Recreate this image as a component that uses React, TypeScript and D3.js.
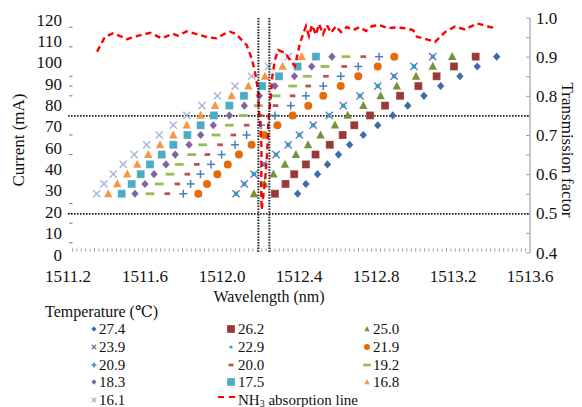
import React from "react";
import * as d3 from "d3";

// ---------- data ----------
const currents = [30, 35, 40, 45, 50, 55, 60, 65, 70, 75, 80, 85, 90, 95, 100];

const wl274 = [1512.393, 1512.436, 1512.496, 1512.548, 1512.605, 1512.663, 1512.734, 1512.809, 1512.887, 1512.965, 1513.049, 1513.136, 1513.236, 1513.326, 1513.427];
const wl262 = [1512.275, 1512.330, 1512.375, 1512.436, 1512.486, 1512.560, 1512.627, 1512.687, 1512.769, 1512.847, 1512.925, 1513.020, 1513.115, 1513.205, 1513.318];
const wl250 = [1512.166, 1512.220, 1512.267, 1512.327, 1512.384, 1512.447, 1512.512, 1512.587, 1512.653, 1512.734, 1512.824, 1512.908, 1513.008, 1513.095, 1513.196];
const wl239 = [1512.073, 1512.116, 1512.166, 1512.215, 1512.281, 1512.344, 1512.402, 1512.474, 1512.557, 1512.630, 1512.717, 1512.809, 1512.894, 1512.997, 1513.095];
const wl229 = [1512.073, 1512.116, 1512.166, 1512.215, 1512.281, 1512.344, 1512.402, 1512.474, 1512.557, 1512.630, 1512.717, 1512.809, 1512.894, 1512.997, 1513.095];
const wl219 = [1511.877, 1511.922, 1511.976, 1512.030, 1512.088, 1512.154, 1512.218, 1512.288, 1512.367, 1512.448, 1512.526, 1512.617, 1512.708, 1512.809, 1512.895];
const wl209 = [1511.799, 1511.837, 1511.888, 1511.943, 1511.998, 1512.068, 1512.128, 1512.203, 1512.275, 1512.357, 1512.436, 1512.526, 1512.617, 1512.708, 1512.816];
const wl200 = [1511.716, 1511.768, 1511.820, 1511.869, 1511.924, 1511.990, 1512.059, 1512.128, 1512.197, 1512.278, 1512.367, 1512.448, 1512.540, 1512.635, 1512.734];
const wl192 = [1511.626, 1511.674, 1511.730, 1511.778, 1511.843, 1511.900, 1511.969, 1512.038, 1512.111, 1512.189, 1512.281, 1512.367, 1512.443, 1512.535, 1512.644];
const wl183 = [1511.548, 1511.600, 1511.647, 1511.709, 1511.757, 1511.829, 1511.889, 1511.955, 1512.038, 1512.116, 1512.194, 1512.275, 1512.376, 1512.466, 1512.571];
const wl175 = [1511.479, 1511.531, 1511.578, 1511.626, 1511.687, 1511.747, 1511.820, 1511.889, 1511.958, 1512.038, 1512.114, 1512.208, 1512.296, 1512.393, 1512.488];
const wl168 = [1511.409, 1511.456, 1511.508, 1511.560, 1511.617, 1511.678, 1511.747, 1511.817, 1511.889, 1511.964, 1512.050, 1512.137, 1512.223, 1512.315, 1512.414];
const wl161 = [1511.349, 1511.387, 1511.435, 1511.487, 1511.544, 1511.609, 1511.674, 1511.747, 1511.817, 1511.896, 1511.976, 1512.068, 1512.154, 1512.241, 1512.344];

const temperatureLabels = ["27.4", "26.2", "25.0", "23.9", "22.9", "21.9", "20.9", "20.0", "19.2", "18.3", "17.5", "16.8", "16.1"];

const nh3Wavelength = [
  1511.351, 1511.392, 1511.434, 1511.470, 1511.506, 1511.566, 1511.626, 1511.688, 1511.743, 1511.771,
  1511.817, 1511.881, 1511.925, 1511.972, 1512.010, 1512.042, 1512.073, 1512.102, 1512.128, 1512.154,
  1512.171, 1512.187, 1512.192, 1512.200, 1512.205, 1512.205, 1512.203, 1512.206, 1512.223, 1512.232,
  1512.237, 1512.241, 1512.252, 1512.261, 1512.275, 1512.292, 1512.327, 1512.353, 1512.379, 1512.405,
  1512.436, 1512.452, 1512.468, 1512.488, 1512.504, 1512.525, 1512.545, 1512.566, 1512.592, 1512.618,
  1512.649, 1512.681, 1512.717, 1512.748, 1512.779, 1512.816, 1512.862, 1512.904, 1512.951, 1512.992,
  1513.013, 1513.060, 1513.107, 1513.158, 1513.210, 1513.262, 1513.325, 1513.392, 1513.423,
];
const nh3Transmission = [
  0.914, 0.952, 0.961, 0.954, 0.946, 0.955, 0.962, 0.948, 0.960, 0.955,
  0.966, 0.957, 0.951, 0.948, 0.959, 0.965, 0.959, 0.944, 0.931, 0.897,
  0.863, 0.816, 0.765, 0.722, 0.671, 0.620, 0.569, 0.510, 0.579, 0.637,
  0.681, 0.740, 0.791, 0.849, 0.893, 0.918, 0.911, 0.893, 0.877, 0.936,
  0.979, 0.954, 0.982, 0.957, 0.985, 0.959, 0.982, 0.962, 0.979, 0.964,
  0.977, 0.969, 0.977, 0.967, 0.979, 0.982, 0.974, 0.976, 0.974, 0.969,
  0.952, 0.946, 0.939, 0.964, 0.978, 0.971, 0.986, 0.977, 0.974,
];

const xTickValues = [1511.2, 1511.6, 1512.0, 1512.4, 1512.8, 1513.2, 1513.6];
const currentTickLabels = [120, 110, 100, 90, 80, 70, 60, 40, 30, 20, 10, 0];
const currentMinorTicks = [5, 15, 20, 25, 50, 60, 80, 85, 90, 105, 115];
const transmissionTicks = [0.4, 0.5, 0.6, 0.7, 0.8, 0.9, 1.0];
const transmissionMinorTicks = [0.45, 0.55, 0.65, 0.75, 0.85, 0.95];
const markerWavelengths = [1512.189, 1512.246];
const markerTransmissions = [0.75, 0.5];

// ---------- styles ----------
type Shape = "diamond" | "square" | "triangle" | "xcross" | "dot" | "circle" | "plus" | "dashLong" | "dashShort";
const seriesStyle: { shape: Shape; color: string }[] = [
  { shape: "diamond", color: "#3D6CA8" },
  { shape: "square", color: "#9A3A37" },
  { shape: "triangle", color: "#76933C" },
  { shape: "xcross", color: "#8A6BA6" },
  { shape: "dot", color: "#1EA3D2" },
  { shape: "circle", color: "#E46C0A" },
  { shape: "plus", color: "#4A7EBB" },
  { shape: "dashShort", color: "#C0504D" },
  { shape: "dashLong", color: "#9BBB59" },
  { shape: "diamond", color: "#8064A2" },
  { shape: "square", color: "#4BACC6" },
  { shape: "triangle", color: "#F79646" },
  { shape: "xcross", color: "#A3B4DA" },
];
const seriesData = [wl274, wl262, wl250, wl239, wl229, wl219, wl209, wl200, wl192, wl183, wl175, wl168, wl161];

const FONT = "'Times New Roman', 'Liberation Serif', 'DejaVu Serif', serif";

function Marker({ shape, color, x, y, s }: { shape: Shape; color: string; x: number; y: number; s: number }) {
  switch (shape) {
    case "diamond":
      return <path d={`M${x},${y - s * 1.1}L${x + s},${y}L${x},${y + s * 1.1}L${x - s},${y}Z`} fill={color} />;
    case "square":
      return <rect x={x - s} y={y - s} width={2 * s} height={2 * s} fill={color} stroke="#ffffff" strokeOpacity={0.35} strokeWidth={0.8} />;
    case "triangle":
      return <path d={`M${x},${y - s * 1.15}L${x + s * 1.05},${y + s * 0.85}L${x - s * 1.05},${y + s * 0.85}Z`} fill={color} />;
    case "circle":
      return <circle cx={x} cy={y} r={s} fill={color} />;
    case "dot":
      return <circle cx={x} cy={y} r={s * 0.5} fill={color} />;
    case "plus":
      return (
        <g stroke={color} strokeWidth={1.5}>
          <line x1={x - s} x2={x + s} y1={y} y2={y} />
          <line x1={x} x2={x} y1={y - s} y2={y + s} />
        </g>
      );
    case "xcross":
      return (
        <g stroke={color} strokeWidth={1.4}>
          <line x1={x - s * 0.9} x2={x + s * 0.9} y1={y - s * 0.9} y2={y + s * 0.9} />
          <line x1={x - s * 0.9} x2={x + s * 0.9} y1={y + s * 0.9} y2={y - s * 0.9} />
        </g>
      );
    case "dashLong":
      return <rect x={x - s * 1.1} y={y - 1.4} width={s * 2.2} height={2.8} fill={color} />;
    case "dashShort":
      return <rect x={x - s * 0.7} y={y - 1.4} width={s * 1.4} height={2.8} fill={color} />;
  }
  return null;
}

export default function App() {
  const W = 582;
  const H = 407;
  const xScale = d3.scaleLinear().domain([1511.2, 1513.6]).range([68, 530]);
  const yCur = d3.scaleLinear().domain([0, 120]).range([252.5, 17.5]);
  const yT = d3.scaleLinear().domain([0.4, 1.0]).range([253, 18]);
  const yLabel = d3.scalePoint<string>().domain(currentTickLabels.map(String)).range([20, 255]);

  const nh3Points: [number, number][] = nh3Wavelength.map((w, i) => [w, nh3Transmission[i]]);
  const nh3Line = d3
    .line<[number, number]>()
    .x((d) => xScale(d[0]))
    .y((d) => yT(d[1]))(nh3Points) as string;

  const plotLeft = xScale(1511.2);
  const plotRight = xScale(1513.6);

  const legendRows = [
    [0, 1, 2],
    [3, 4, 5],
    [6, 7, 8],
    [9, 10, 11],
    [12, -1],
  ];
  const legendColMarker = [94, 231, 367];
  const legendColText = [99, 238, 373];
  const legendRowY = [329, 347, 365, 382, 400];
  const legendSize = [2.6, 4, 2.6, 2.4, 3.2, 3, 2.4, 3.5, 3.5, 2.6, 4, 2.6, 2.4];

  const textStyle = { fontFamily: FONT };

  return (
    <div style={{ position: "fixed", left: 0, top: 0, width: W, height: H, background: "#fff" }}>
      <svg width={W} height={H} style={{ display: "block" }}>
        <rect width={W} height={H} fill="#fff" />

        {/* bottom minor tick dots */}
        <line x1={72} x2={527} y1={250} y2={250} stroke="#9a9a9a" strokeWidth={3} strokeDasharray="1,3.4" />

        {/* left minor ticks */}
        {currentMinorTicks.map((v) => (
          <line key={v} x1={69} x2={72.5} y1={yCur(v)} y2={yCur(v)} stroke="#777" strokeWidth={1} />
        ))}

        {/* right axis */}
        <line x1={plotRight} x2={plotRight} y1={yT(1.0)} y2={yT(0.4)} stroke="#a0a0a0" strokeWidth={1.2} />
        {transmissionTicks.concat(transmissionMinorTicks).map((v) => (
          <line key={v} x1={plotRight - 4} x2={plotRight} y1={yT(v)} y2={yT(v)} stroke="#a0a0a0" strokeWidth={1} />
        ))}

        {/* horizontal dotted lines */}
        {markerTransmissions.map((t) => (
          <line key={t} x1={plotLeft} x2={plotRight} y1={yT(t)} y2={yT(t)} stroke="#222" strokeWidth={1.6} strokeDasharray="1.6,1.4" />
        ))}

        {/* data markers */}
        {seriesData.map((arr, si) =>
          arr.map((w, i) => (
            <Marker key={`${si}-${i}`} shape={seriesStyle[si].shape} color={seriesStyle[si].color} x={xScale(w)} y={yCur(currents[i])} s={seriesStyle[si].shape === "dot" ? 4.4 : seriesStyle[si].shape === "diamond" ? 3.7 : 4} />
          ))
        )}

        {/* NH3 absorption line */}
        <path d={nh3Line} fill="none" stroke="#FF0000" strokeWidth={2.4} strokeDasharray="6,4" />

        {/* vertical dotted lines */}
        {markerWavelengths.map((w) => (
          <line key={w} x1={xScale(w)} x2={xScale(w)} y1={18} y2={253} stroke="#222" strokeWidth={2} strokeDasharray="1.5,1.3" />
        ))}

        <g fill="#111">
          {/* left tick labels */}
          {currentTickLabels.map((v) => (
            <text key={v} x={62} y={yLabel(String(v))} textAnchor="end" dominantBaseline="central" fontSize={17} style={textStyle}>
              {v}
            </text>
          ))}

          {/* right tick labels */}
          {transmissionTicks.map((v) => (
            <text key={v} x={536} y={yT(v)} dominantBaseline="central" fontSize={17} style={textStyle}>
              {v.toFixed(1)}
            </text>
          ))}

          {/* x tick labels */}
          {xTickValues.map((v) => (
            <text key={v} x={xScale(v)} y={282} textAnchor="middle" fontSize={17} style={textStyle}>
              {v.toFixed(1)}
            </text>
          ))}

          {/* axis titles */}
          <text x={269} y={302} textAnchor="middle" fontSize={16} style={textStyle}>
            Wavelength (nm)
          </text>
          <text transform="translate(24,140) rotate(-90)" textAnchor="middle" fontSize={17} style={textStyle}>
            Current (mA)
          </text>
          <text transform="translate(562,150) rotate(90)" textAnchor="middle" fontSize={17} style={textStyle}>
            Transmission factor
          </text>

          {/* legend */}
          <text x={45} y={317} fontSize={16} style={textStyle}>
            Temperature (℃)
          </text>
          {legendRows.map((row, ri) =>
            row.map((si, ci) => {
              const y = legendRowY[ri];
              if (si < 0) {
                return (
                  <g key={`nh3`}>
                    <line x1={218} x2={237} y1={y - 3} y2={y - 3} stroke="#FF0000" strokeWidth={2.2} strokeDasharray="6,5" />
                    <text x={legendColText[ci]} y={y} dominantBaseline="central" fontSize={15} style={textStyle}>
                      NH
                      <tspan fontSize={10} dy={3}>3</tspan>
                      <tspan dy={-3}> absorption line</tspan>
                    </text>
                  </g>
                );
              }
              return (
                <g key={`lg-${si}`}>
                  <Marker shape={seriesStyle[si].shape} color={seriesStyle[si].color} x={legendColMarker[ci]} y={y} s={legendSize[si]} />
                  <text x={legendColText[ci]} y={y} dominantBaseline="central" fontSize={15} style={textStyle}>
                    {temperatureLabels[si]}
                  </text>
                </g>
              );
            })
          )}
        </g>
      </svg>
    </div>
  );
}
